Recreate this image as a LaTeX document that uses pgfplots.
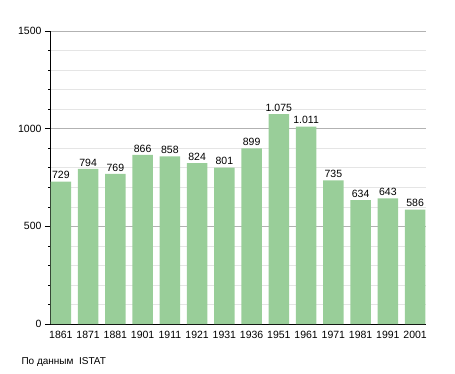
\documentclass[border=0pt]{standalone}
\usepackage{pgfplots}
\pgfplotsset{compat=1.18}
\usepackage{fontspec}
\setmainfont{Liberation Sans}
\definecolor{barg}{RGB}{153,206,153}
\begin{document}
\begin{tikzpicture}[x=1pt,y=1pt]
\useasboundingbox (0,0) rectangle (455,373);
\begin{axis}[
  at={(50pt,49pt)}, anchor=south west,
  scale only axis, width=376pt, height=293pt,
  xmin=-0.4, xmax=13.4, ymin=0, ymax=1500,
  axis lines*=left,
  axis line style={black, line width=0.8pt},
  xtick=data,
  xticklabels={1861,1871,1881,1901,1911,1921,1931,1936,1951,1961,1971,1981,1991,2001},
  x tick label style={font=\fontsize{10.5}{11}\selectfont, yshift=1pt},
  ytick={0,500,1000,1500},
  minor ytick={100,200,300,400,600,700,800,900,1100,1200,1300,1400},
  y tick label style={font=\fontsize{10.5}{11}\selectfont, /pgf/number format/1000 sep={}},
  /pgf/number format/assume math mode=true,
  ymajorgrids, yminorgrids,
  major grid style={gray!60, line width=0.6pt},
  minor grid style={gray!20, line width=0.6pt},
  major tick length=5pt, minor tick length=2pt,
  tick align=outside,
  x tick style={draw=none},
  y tick style={black, line width=0.6pt},
  ybar, bar width=20.5pt,
  nodes near coords,
  nodes near coords style={font=\fontsize{10.5}{11}\selectfont, /pgf/number format/1000 sep={.}, yshift=-1pt},
  clip=false,
]
\addplot[fill=barg, draw=none] coordinates {
(0,729) (1,794) (2,769) (3,866) (4,858) (5,824) (6,801) (7,899) (8,1075) (9,1011) (10,735) (11,634) (12,643) (13,586)};
\end{axis}
\node[anchor=west, font=\fontsize{10}{11}\selectfont] at (18pt,11pt) {По данным\ \ ISTAT};
\end{tikzpicture}
\end{document}
